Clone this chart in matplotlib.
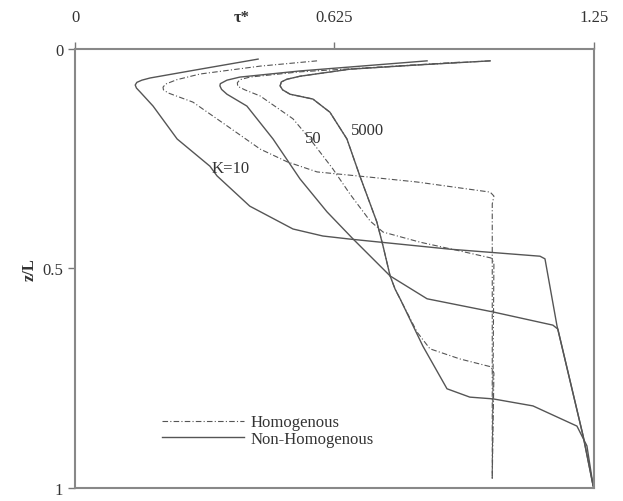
import numpy as np
import matplotlib
matplotlib.use('Agg')
import matplotlib.pyplot as plt

plt.rcParams['font.family'] = ['Liberation Serif', 'DejaVu Serif']

# shear stress profiles, tau* vs z/L
# K = 10
k10_non_tau = [0.441, 0.301, 0.181, 0.161, 0.149, 0.145, 0.148, 0.157, 0.188, 0.246,
               0.325, 0.342, 0.421, 0.525, 0.597, 0.662, 0.903, 1.120, 1.132, 1.161,
               1.224, 1.248]
k10_non_z = [0.023, 0.046, 0.066, 0.071, 0.076, 0.082, 0.089, 0.098, 0.130, 0.205,
             0.267, 0.289, 0.358, 0.410, 0.426, 0.433, 0.456, 0.472, 0.478, 0.631,
             0.882, 0.995]
k10_hom_tau = [0.583, 0.446, 0.301, 0.245, 0.218, 0.212, 0.213, 0.224, 0.284, 0.366,
               0.446, 0.511, 0.583, 0.711, 0.824, 1.000, 1.009, 1.005, 1.005]
k10_hom_z = [0.027, 0.039, 0.057, 0.070, 0.080, 0.087, 0.093, 0.100, 0.121, 0.175,
             0.228, 0.257, 0.280, 0.292, 0.303, 0.326, 0.335, 0.353, 0.979]

# K = 50
k50_non_tau = [0.848, 0.662, 0.542, 0.397, 0.366, 0.350, 0.349, 0.353, 0.366, 0.414,
               0.477, 0.542, 0.607, 0.670, 0.759, 0.848, 1.007, 1.151, 1.163, 1.224,
               1.248]
k50_non_z = [0.027, 0.041, 0.050, 0.064, 0.071, 0.079, 0.084, 0.092, 0.103, 0.130,
             0.205, 0.296, 0.371, 0.433, 0.517, 0.569, 0.599, 0.629, 0.638, 0.882,
             0.995]
k50_hom_tau = [0.927, 0.735, 0.542, 0.421, 0.397, 0.391, 0.392, 0.409, 0.446, 0.525,
               0.566, 0.621, 0.662, 0.711, 0.742, 0.831, 0.927, 1.002, 1.009, 1.005]
k50_hom_z = [0.030, 0.041, 0.052, 0.064, 0.070, 0.077, 0.085, 0.093, 0.107, 0.159,
             0.205, 0.273, 0.330, 0.392, 0.417, 0.440, 0.460, 0.476, 0.487, 0.979]

# K = 5000 (both runs coincide near the surface)
k5000_top_tau = [1.000, 0.831, 0.662, 0.542, 0.510, 0.497, 0.494, 0.500, 0.518, 0.573,
                 0.614, 0.655, 0.686, 0.711, 0.727, 0.742, 0.759, 0.771]
k5000_top_z = [0.027, 0.036, 0.046, 0.062, 0.069, 0.075, 0.084, 0.093, 0.103, 0.114,
               0.144, 0.205, 0.289, 0.353, 0.394, 0.449, 0.517, 0.547]
k5000_hom_tau = [0.824, 0.855, 0.927, 1.002, 1.009, 1.005]
k5000_hom_z = [0.645, 0.683, 0.706, 0.724, 0.738, 0.979]
k5000_non_tau = [0.783, 0.838, 0.896, 0.951, 1.007, 1.103, 1.209, 1.233, 1.248]
k5000_non_z = [0.569, 0.677, 0.774, 0.793, 0.797, 0.813, 0.859, 0.904, 0.995]

labels = ['K=10', '50', '5000']
label_pos = [(0.33, 0.272), (0.555, 0.203), (0.665, 0.185)]

line_col = '#555555'
dash = (0, (5, 2, 1, 2))

fig = plt.figure(figsize=(6.23, 5.02), dpi=100)
ax = fig.add_axes([0.1204, 0.0259, 0.8330, 0.8745])

ax.plot(k10_non_tau, k10_non_z, color=line_col, lw=1.0)
ax.plot(k50_non_tau, k50_non_z, color=line_col, lw=1.0)
ax.plot(k5000_top_tau + k5000_non_tau, k5000_top_z + k5000_non_z, color=line_col, lw=1.0)
ax.plot(k10_hom_tau, k10_hom_z, color=line_col, lw=0.8, ls=dash)
ax.plot(k50_hom_tau, k50_hom_z, color=line_col, lw=0.8, ls=dash)
ax.plot(k5000_top_tau + k5000_hom_tau, k5000_top_z + k5000_hom_z, color=line_col, lw=0.8, ls=dash)

for lab, (tx, tz) in zip(labels, label_pos):
    ax.text(tx, tz, lab, fontsize=12, color='#333333', ha='left', va='center')

ax.set_xlim(0, 1.25)
ax.set_ylim(1, 0)
ax.xaxis.tick_top()
ax.set_xticks([0, 0.625, 1.25])
ax.set_xticklabels(['0', '0.625', '1.25'])
ax.set_yticks([0, 0.5, 1])
ax.set_yticklabels(['0', '0.5', '1'])
ax.tick_params(axis='both', direction='out', length=5, width=1, color='#777777',
               labelsize=12, labelcolor='#333333')
ax.tick_params(axis='x', pad=12)
for s in ax.spines.values():
    s.set_color('#888888')
    s.set_linewidth(1.5)

fig.text(242 / 623, 1 - 18 / 502, 'τ*', fontsize=12, fontweight='bold', color='#333333',
         ha='center', va='center')
fig.text(30 / 623, 1 - 270 / 502, 'z/L', fontsize=12, fontweight='bold', color='#333333',
         ha='center', va='center', rotation=90)

h1, = ax.plot([], [], color=line_col, lw=0.8, ls=dash)
h2, = ax.plot([], [], color=line_col, lw=1.0)
ax.legend([h1, h2], ['Homogenous', 'Non-Homogenous'], frameon=False, fontsize=12,
          loc='upper left', bbox_to_anchor=(154 / 623, 1 - 407 / 502),
          bbox_transform=fig.transFigure, borderpad=0, handlelength=4.9,
          handletextpad=0.4, labelspacing=0.05, labelcolor='#333333')

fig.savefig('out.png', dpi=100)
